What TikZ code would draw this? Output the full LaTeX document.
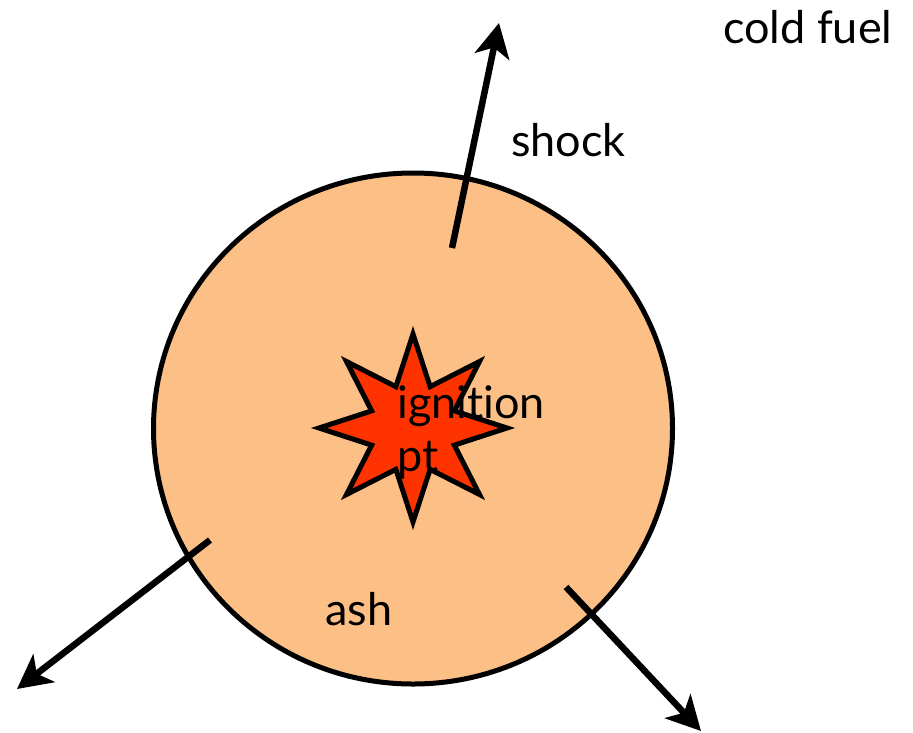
\documentclass[tikz,border=0pt]{standalone}
\usepackage{fontspec}
\setmainfont{Lato}[Ligatures={NoCommon,NoRequired,NoContextual}]
\usetikzlibrary{arrows.meta,shapes.geometric}
\definecolor{ashfill}{RGB}{252,192,135}
\definecolor{starfill}{RGB}{255,51,0}
\tikzset{
  lbl/.style={anchor=base west, inner sep=0pt, font=\fontsize{45}{54}\selectfont},
  bigarrow/.style={line width=6.5pt, -{Stealth[length=34pt,width=35pt,inset=9pt]}},
}
\begin{document}
\begin{tikzpicture}[x=1pt,y=-1pt]
  \useasboundingbox (0,0) rectangle (913,732);
  \node[ellipse, draw, line width=5pt, fill=ashfill, minimum width=519pt, minimum height=511pt, inner sep=0pt] (ash) at (413,428.5) {};
  \node[star, star points=8, star point ratio=2.1, draw, line width=5pt, fill=starfill, minimum size=188pt, inner sep=0pt] (ign) at (413,428) {};
  \node[lbl] (igntext) at (397,418) {ignition};
  \node[lbl] (pttext) at (397,471.5) {pt};
  \node[lbl] (ashtext) at (325,625) {ash};
  \node[lbl] (shocktext) at (511,156.5) {shock};
  \node[lbl] (coldtext) at (723,43) {cold fuel};
  \coordinate (s1) at (452,248);
  \coordinate (t1) at (499,23);
  \coordinate (s2) at (210,540);
  \coordinate (t2) at (17,689);
  \coordinate (s3) at (566,587);
  \coordinate (t3) at (701,731);
  \draw[bigarrow] (s1) -- (t1);
  \draw[bigarrow] (s2) -- (t2);
  \draw[bigarrow] (s3) -- (t3);
\end{tikzpicture}
\end{document}
